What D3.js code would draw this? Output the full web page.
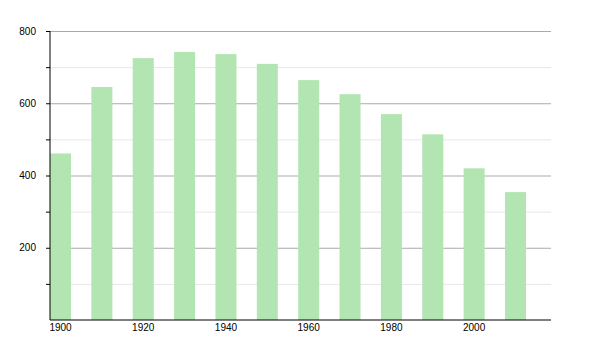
<!DOCTYPE html>
<html>
<head>
<meta charset="utf-8">
<script src="https://cdn.jsdelivr.net/npm/d3@7"></script>
<style>
  body { margin: 0; background: #fff; }
  svg text { font-family: "Liberation Sans", Arial, sans-serif; font-size: 10px; fill: #000; }
</style>
</head>
<body>
<div id="chartDiv"></div>
<script>
'use strict';

const years = [1900, 1910, 1920, 1930, 1940, 1950, 1960, 1970, 1980, 1990, 2000, 2010];
const population = [461, 645, 725, 742, 736, 709, 664, 625, 570, 514, 420, 354];
const majorTicks = [200, 400, 600, 800];
const minorTicks = [100, 300, 500, 700];
const yearLabels = [1900, 1920, 1940, 1960, 1980, 2000];

const width = 600, height = 350;
const margin = { top: 31, right: 49, bottom: 30, left: 50 };
const plotW = width - margin.left - margin.right;
const plotH = height - margin.top - margin.bottom;

const svg = d3.select('#chartDiv')
    .append('svg')
    .attr('width', width)
    .attr('height', height);

const g = svg.append('g')
    .attr('transform', `translate(${margin.left},${margin.top})`);

const xScale = d3.scaleBand()
    .domain(years)
    .range([0, 476])
    .paddingInner(0.492)
    .paddingOuter(0);

const yScale = d3.scaleLinear()
    .domain([0, 800])
    .range([plotH, 0]);

// minor gridlines
g.append('g')
    .call(d3.axisLeft(yScale).tickValues(minorTicks).tickSizeInner(-plotW).tickSizeOuter(0).tickFormat(''))
    .call(a => a.select('.domain').remove())
    .call(a => a.selectAll('line').attr('stroke', '#e6e6e6'));

// major gridlines
g.append('g')
    .call(d3.axisLeft(yScale).tickValues(majorTicks).tickSizeInner(-plotW).tickSizeOuter(0).tickFormat(''))
    .call(a => a.select('.domain').remove())
    .call(a => a.selectAll('line').attr('stroke', '#aaaaaa'));

// bars
g.selectAll('rect.bar')
    .data(years)
    .enter()
    .append('rect')
    .attr('class', 'bar')
    .attr('x', d => xScale(d))
    .attr('width', xScale.bandwidth())
    .attr('y', (d, i) => yScale(population[i]))
    .attr('height', (d, i) => plotH - yScale(population[i]))
    .attr('fill', '#b2e5b2');

// y axis (major + minor ticks)
g.append('g')
    .call(d3.axisLeft(yScale).tickValues(minorTicks).tickSize(4).tickFormat(''))
    .call(a => a.select('.domain').remove());

g.append('g')
    .call(d3.axisLeft(yScale).tickValues(majorTicks).tickSizeInner(4).tickSizeOuter(0).tickPadding(10))
    .call(a => a.select('.domain').attr('d', `M0,0V${plotH}`))
    .call(a => a.selectAll('text').attr('font-family', null).attr('font-size', null));

// x axis
const xAxis = g.append('g')
    .attr('transform', `translate(0,${plotH})`);

xAxis.append('line')
    .attr('x1', 0)
    .attr('x2', plotW)
    .attr('stroke', '#000');

xAxis.selectAll('text')
    .data(yearLabels)
    .enter()
    .append('text')
    .attr('x', d => xScale(d) + xScale.bandwidth() / 2)
    .attr('y', 11)
    .attr('text-anchor', 'middle')
    .text(d => d);
</script>
</body>
</html>
